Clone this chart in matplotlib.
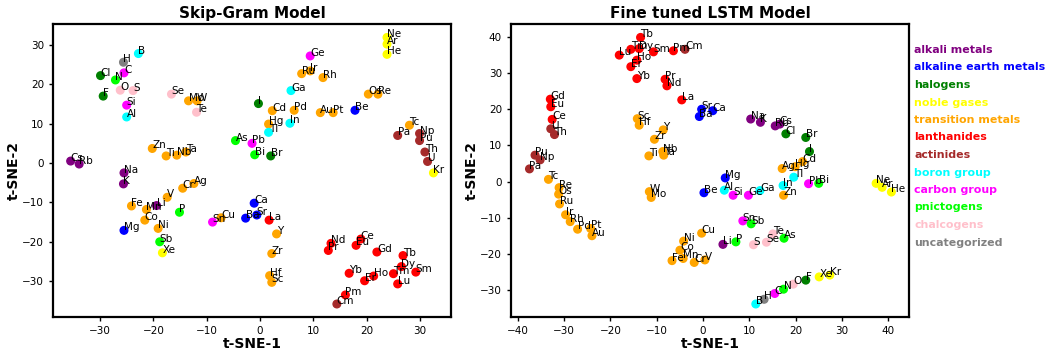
import matplotlib
matplotlib.use("Agg")
import matplotlib.pyplot as plt

elements = ["H", "He", "Li", "Be", "B", "C", "N", "O", "F", "Ne", "Na", "Mg", "Al", "Si", "P", "S", "Cl", "Ar",
            "K", "Ca", "Sc", "Ti", "V", "Cr", "Mn", "Fe", "Co", "Ni", "Cu", "Zn", "Ga", "Ge", "As", "Se", "Br", "Kr",
            "Rb", "Sr", "Y", "Zr", "Nb", "Mo", "Tc", "Ru", "Rh", "Pd", "Ag", "Cd", "In", "Sn", "Sb", "Te", "I", "Xe",
            "Cs", "Ba", "La", "Ce", "Pr", "Nd", "Pm", "Sm", "Eu", "Gd", "Tb", "Dy", "Ho", "Er", "Tm", "Yb", "Lu",
            "Hf", "Ta", "W", "Re", "Os", "Ir", "Pt", "Au", "Hg", "Tl", "Pb", "Bi", "Th", "Pa", "U", "Np", "Pu", "Cm"]

categories = {
    "alkali metals": ["Li", "Na", "K", "Rb", "Cs"],
    "alkaline earth metals": ["Be", "Mg", "Ca", "Sr", "Ba"],
    "halogens": ["F", "Cl", "Br", "I"],
    "noble gases": ["He", "Ne", "Ar", "Kr", "Xe"],
    "transition metals": ["Sc", "Ti", "V", "Cr", "Mn", "Fe", "Co", "Ni", "Cu", "Zn", "Y", "Zr", "Nb", "Mo", "Tc",
                          "Ru", "Rh", "Pd", "Ag", "Cd", "Hf", "Ta", "W", "Re", "Os", "Ir", "Pt", "Au", "Hg"],
    "lanthanides": ["La", "Ce", "Pr", "Nd", "Pm", "Sm", "Eu", "Gd", "Tb", "Dy", "Ho", "Er", "Tm", "Yb", "Lu"],
    "actinides": ["Th", "Pa", "U", "Np", "Pu", "Cm"],
    "boron group": ["B", "Al", "Ga", "In", "Tl"],
    "carbon group": ["C", "Si", "Ge", "Sn", "Pb"],
    "pnictogens": ["N", "P", "As", "Sb", "Bi"],
    "chalcogens": ["O", "S", "Se", "Te"],
    "uncategorized": ["H"],
}
category_colors = {
    "alkali metals": "purple", "alkaline earth metals": "blue", "halogens": "green",
    "noble gases": "yellow", "transition metals": "orange", "lanthanides": "red",
    "actinides": "brown", "boron group": "cyan", "carbon group": "magenta",
    "pnictogens": "lime", "chalcogens": "pink", "uncategorized": "gray",
}

skipgram_x = [-25.6, 23.8, -19.4, 17.8, -22.8, -25.5, -27.1, -26.2, -29.4, 23.8, -25.5, -25.5, -25.0, -25.0, -15.1, -23.8, -29.9, 23.8,
              -25.6, -1.1, 2.2, -17.6, -17.4, -14.5, -21.3, -24.1, -21.6, -19.1, -7.3, -20.2, 5.8, 9.4, -4.6, -16.6, 2.0, 32.5,
              -33.9, -0.6, 3.1, 2.2, -15.6, -13.4, 28.0, 7.8, 11.8, 6.4, -12.4, 2.3, 5.6, -8.9, -18.8, -11.9, -0.3, -18.3,
              -35.5, -2.7, 1.7, 18.9, 12.8, 13.3, 16.0, 29.2, 18.0, 21.9, 26.8, 26.5, 21.3, 19.6, 25.0, 16.7, 25.8,
              1.8, -13.9, -11.8, 22.1, 20.3, 9.4, 13.7, 11.3, 1.6, 1.6, -1.5, -1.0, 30.9, 25.8, 31.4, 29.9, 29.9, 14.4]
skipgram_y = [25.6, 27.6, -10.8, 13.4, 27.8, 22.9, 21.1, 18.5, 17.0, 31.9, -2.5, -17.1, 11.7, 14.7, -12.5, 18.4, 22.2, 30.2,
              -5.3, -10.2, -30.3, 1.8, -8.7, -6.4, -11.8, -10.9, -14.5, -16.6, -13.9, 3.7, 18.4, 27.2, 5.7, 17.5, 1.8, -2.5,
              -0.25, -13.2, -18.0, -23.0, 2.0, 15.8, 9.6, 22.7, 21.7, 13.4, -5.2, 13.3, 10.1, -15.0, -20.0, 12.9, 15.1, -22.8,
              0.5, -14.0, -14.5, -19.3, -22.2, -20.4, -33.5, -27.7, -20.9, -22.6, -23.5, -26.3, -28.7, -29.9, -28.1, -28.0, -30.7,
              -28.6, 2.8, 15.8, 17.5, 17.5, 23.4, 12.8, 12.8, 9.9, 7.8, 5.0, 2.1, 2.8, 7.0, 0.4, 7.5, 5.7, -35.8]

lstm_x = [13.2, 40.7, 4.3, 0.2, 11.4, 15.5, 17.4, 19.5, 22.2, 37.4, 10.3, 4.8, 4.6, 6.5, 7.1, 10.9, 17.9, 38.7,
          12.4, 2.1, -14.2, -11.7, 0.4, -1.9, -4.3, -6.7, -5.0, -4.2, -0.3, 17.4, 12.3, 9.8, 17.5, 13.7, 22.2, 27.4,
          15.6, -0.3, -8.6, -10.5, -8.7, -11.2, -33.4, -31.0, -28.7, -27.1, 17.1, 21.5, 17.3, 8.6, 10.4, 15.1, 23.0, 25.1,
          16.6, -0.8, -4.6, -32.6, -8.2, -7.8, -6.4, -10.7, -32.9, -33.0, -13.5, -13.8, -14.3, -15.6, -15.6, -14.3, -18.1,
          -13.8, -8.5, -11.6, -31.1, -31.2, -29.7, -24.3, -24.0, 19.9, 19.6, 22.8, 25.0, -32.1, -37.5, -32.9, -35.2, -36.3, -3.9]
lstm_y = [-32.6, -2.9, -17.4, -3.1, -33.9, -31.0, -29.8, -28.4, -27.3, -0.5, 17.3, 1.0, -2.4, -3.8, -16.7, -17.5, 13.2, -1.6,
          16.4, 19.6, 17.4, 7.1, -21.7, -22.4, -21.3, -21.9, -19.0, -16.5, -14.3, -3.8, -2.5, -3.8, -15.7, -16.8, 12.2, -25.9,
          15.4, 20.0, 14.3, 11.7, 8.3, -4.4, 0.6, -6.2, -11.1, -13.2, 3.6, 5.5, -1.1, -10.9, -11.7, -14.5, 8.3, -26.4,
          15.9, 18.0, 22.6, 17.2, 28.3, 26.5, 36.2, 35.9, 20.7, 22.8, 39.9, 36.8, 33.6, 31.8, 36.6, 28.5, 35.0,
          15.6, 7.3, -2.8, -1.7, -3.5, -9.2, -13.0, -15.0, 4.1, 1.2, -0.6, -0.5, 13.0, 3.5, 14.6, 6.0, 7.3, 36.6]

titles = ["Skip-Gram Model", "Fine tuned LSTM Model"]

elem_color = {}
for cat, els in categories.items():
    for e in els:
        elem_color[e] = category_colors[cat]
colors = [elem_color[e] for e in elements]

fig = plt.figure(figsize=(10.46, 3.5), dpi=100)
ax1 = fig.add_axes([0.0507, 0.0943, 0.3805, 0.837])
ax2 = fig.add_axes([0.4885, 0.0943, 0.3805, 0.837])

for ax, xs, ys, title in [(ax1, skipgram_x, skipgram_y, titles[0]), (ax2, lstm_x, lstm_y, titles[1])]:
    ax.scatter(xs, ys, c=colors, s=30, zorder=2)
    for e, x, y in zip(elements, xs, ys):
        ax.annotate(e, (x, y), fontsize=7.5, zorder=3)
    ax.set_title(title, fontsize=11, fontweight="bold", pad=4)
    ax.set_xlabel("t-SNE-1", fontsize=10, fontweight="bold", labelpad=1)
    ax.set_ylabel("t-SNE-2", fontsize=10, fontweight="bold", labelpad=1)
    ax.tick_params(labelsize=7.5, length=3, width=1)
    for s in ax.spines.values():
        s.set_linewidth(1.6)

ax1.set_xlim(-38.8, 35.8)
ax1.set_ylim(-39.1, 35.3)
ax1.set_xticks([-30, -20, -10, 0, 10, 20, 30])
ax1.set_yticks([-30, -20, -10, 0, 10, 20, 30])
ax2.set_xlim(-41.5, 44.5)
ax2.set_ylim(-37.5, 43.6)
ax2.set_xticks([-40, -30, -20, -10, 0, 10, 20, 30, 40])
ax2.set_yticks([-30, -20, -10, 0, 10, 20, 30, 40])

for i, cat in enumerate(categories):
    fig.text(0.874, 1 - (50 + 17.5 * i) / 350, cat, color=category_colors[cat],
             fontsize=7.9, fontweight="bold", va="center", ha="left")

fig.savefig("out.png", dpi=100)
